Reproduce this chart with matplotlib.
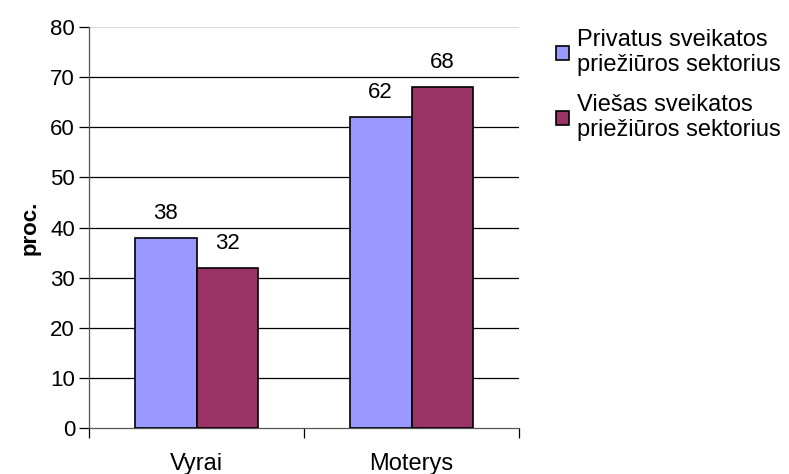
import matplotlib
matplotlib.use("Agg")
import matplotlib.pyplot as plt
from matplotlib.patches import Patch
import numpy as np

plt.rcParams['font.family'] = ['Liberation Sans', 'DejaVu Sans']

categories = ["Vyrai", "Moterys"]
series_names = ["Privatus sveikatos\npriežiūros sektorius", "Viešas sveikatos\npriežiūros sektorius"]
privatus = [38, 62]
viesas = [32, 68]
colors = ["#9999FF", "#993366"]
yticks = [0, 10, 20, 30, 40, 50, 60, 70, 80]

NUM_FS = 16
TXT_FS = 17

fig = plt.figure(figsize=(7.89, 4.74), dpi=100)
ax = fig.add_axes([89/789, 1-428/474, (519-89)/789, (428-27)/474])

x = np.arange(len(categories)) + 0.5
w = 0.288
for i, (vals, c) in enumerate(zip([privatus, viesas], colors)):
    pos = x + (i - 0.5) * w
    bars = ax.bar(pos, vals, width=w, color=c, edgecolor="black", linewidth=1.2, zorder=3)
    for b, v in zip(bars, vals):
        ax.annotate(str(v), (b.get_x() + b.get_width()/2, v), xytext=(0, 10),
                    textcoords="offset points", ha="center", va="bottom", fontsize=NUM_FS)

ax.set_xlim(0, 2)
ax.set_ylim(0, 80)
ax.set_yticks(yticks)
ax.set_yticklabels([str(t) for t in yticks], fontsize=NUM_FS)
for t in yticks[1:-1]:
    ax.axhline(t, color="black", linewidth=0.9, zorder=1)
ax.axhline(80, color="#d8d8d8", linewidth=0.8, zorder=1)

ax.set_xticks([0, 1, 2])
ax.set_xticklabels([])
ax.set_xticks(x, minor=True)
ax.set_xticklabels(categories, minor=True, fontsize=TXT_FS)
ax.tick_params(axis="x", which="minor", length=0, pad=18)
ax.tick_params(axis="x", which="major", length=7, width=0.9, direction="out")
ax.tick_params(axis="y", length=7, width=0.9, direction="out", pad=3)

for s in ["top", "right"]:
    ax.spines[s].set_visible(False)
ax.spines["left"].set_color("#555555")
ax.spines["bottom"].set_color("#555555")
ax.spines["left"].set_linewidth(0.9)
ax.spines["bottom"].set_linewidth(0.9)

ax.set_ylabel("proc.", fontsize=NUM_FS, fontweight="bold", labelpad=7)

handles = [Patch(facecolor=c, edgecolor="black", linewidth=1.2) for c in colors]
fig.legend(handles, series_names, loc="upper left", bbox_to_anchor=(544/789, 1-17/474),
           frameon=False, fontsize=TXT_FS, handlelength=0.55, handleheight=0.55,
           handletextpad=0.35, labelspacing=0.75, borderpad=0)

fig.savefig("out.png", dpi=100)
